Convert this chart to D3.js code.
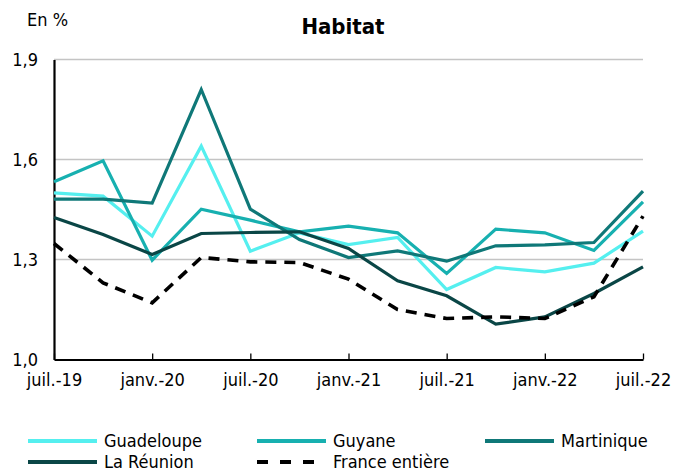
<!DOCTYPE html>
<html>
<head>
<meta charset="utf-8">
<script src="https://cdn.jsdelivr.net/npm/d3@7"></script>
<style>
    body { margin: 0; background: white; }
    text { font-family: "DejaVu Sans Condensed", sans-serif; }
</style>
</head>
<body>
<div id="chart"></div>
<script>
const periods = ["juil.-19", "oct.-19", "janv.-20", "avr.-20", "juil.-20", "oct.-20", "janv.-21",
                 "avr.-21", "juil.-21", "oct.-21", "janv.-22", "avr.-22", "juil.-22"]
const tickLabels = ["juil.-19", "janv.-20", "juil.-20", "janv.-21", "juil.-21", "janv.-22", "juil.-22"]
const yTicks = [1.0, 1.3, 1.6, 1.9]

const guadeloupe = [1.50, 1.49, 1.37, 1.64, 1.325, 1.38, 1.345, 1.366, 1.21, 1.276, 1.263, 1.289, 1.385]
const guyane = [1.533, 1.596, 1.298, 1.451, 1.418, 1.383, 1.40, 1.38, 1.258, 1.391, 1.38, 1.327, 1.473]
const martinique = [1.481, 1.481, 1.469, 1.81, 1.451, 1.36, 1.306, 1.326, 1.295, 1.341, 1.344, 1.351, 1.505]
const reunion = [1.426, 1.375, 1.315, 1.378, 1.381, 1.383, 1.333, 1.236, 1.191, 1.106, 1.128, 1.198, 1.278]
const france = [1.348, 1.23, 1.17, 1.306, 1.293, 1.291, 1.241, 1.15, 1.123, 1.128, 1.123, 1.188, 1.43]

const series = [
    {name: "Guadeloupe", values: guadeloupe, color: "#55EFEF", dash: null},
    {name: "Guyane", values: guyane, color: "#17B0B0", dash: null},
    {name: "Martinique", values: martinique, color: "#0F7878", dash: null},
    {name: "La Réunion", values: reunion, color: "#0A4646", dash: null},
    {name: "France entière", values: france, color: "#000000", dash: "11,8"}
]

var svg = d3.select("#chart")
            .append("svg")
            .attr("width", 674)
            .attr("height", 474)

const x = d3.scalePoint().domain(periods).range([54, 643])
const y = d3.scaleLinear().domain([1.0, 1.9]).range([359.5, 59.5])

// gridlines
svg.selectAll(".grid")
   .data(yTicks.slice(1))
   .enter()
   .append("line")
   .attr("x1", 54).attr("x2", 643)
   .attr("y1", d => y(d)).attr("y2", d => y(d))
   .style("stroke", "#c4c4c4")
   .style("stroke-width", 1.6)

// y axis
var yAxis = svg.append("g")
   .attr("transform", "translate(54,0)")
   .call(d3.axisLeft(y).tickValues(yTicks).tickSize(0).tickPadding(16)
           .tickFormat(d => d3.format(".1f")(d).replace(".", ",")))
yAxis.select(".domain").style("stroke", "black").style("stroke-width", 2.2)
yAxis.selectAll("text").style("font-size", "18px").style("fill", "black")
     .style("font-family", "'DejaVu Sans Condensed', sans-serif")

// x axis
var xAxis = svg.append("g")
   .attr("transform", "translate(0,359.5)")
   .call(d3.axisBottom(x).tickValues(tickLabels).tickSizeInner(-6).tickSizeOuter(0).tickPadding(14))
xAxis.select(".domain").style("stroke", "black").style("stroke-width", 2.2)
xAxis.selectAll(".tick line").style("stroke", "black").style("stroke-width", 1.3)
xAxis.selectAll("text").style("font-size", "18px").style("fill", "black")
     .style("font-family", "'DejaVu Sans Condensed', sans-serif")

const line = d3.line()
               .x((d, i) => x(periods[i]))
               .y(d => y(d))

svg.selectAll(".series")
   .data(series)
   .enter()
   .append("path")
   .attr("d", d => line(d.values))
   .style("fill", "none")
   .style("stroke", d => d.color)
   .style("stroke-width", d => d.dash ? 3.6 : 3.2)
   .style("stroke-dasharray", d => d.dash)
   .style("stroke-linejoin", "miter")

// titles
svg.append("text")
   .attr("x", 343).attr("y", 34)
   .attr("text-anchor", "middle")
   .style("font-size", "22px")
   .style("font-weight", "bold")
   .text("Habitat")

svg.append("text")
   .attr("x", 27).attr("y", 26)
   .style("font-size", "18px")
   .text("En %")

// legend
const legendPos = [[28, 441], [257, 441], [485, 441], [28, 462], [257, 462]]
var legend = svg.selectAll(".legend")
   .data(series)
   .enter()
   .append("g")
   .attr("transform", (d, i) => `translate(${legendPos[i][0]},${legendPos[i][1]})`)

legend.append("line")
      .attr("x1", 0).attr("x2", 69)
      .style("stroke", d => d.color)
      .style("stroke-width", 4)
      .style("stroke-dasharray", d => d.dash ? "11,12" : null)

legend.append("text")
      .attr("x", 76).attr("y", 6)
      .style("font-size", "18px")
      .text(d => d.name)
</script>
</body>
</html>
